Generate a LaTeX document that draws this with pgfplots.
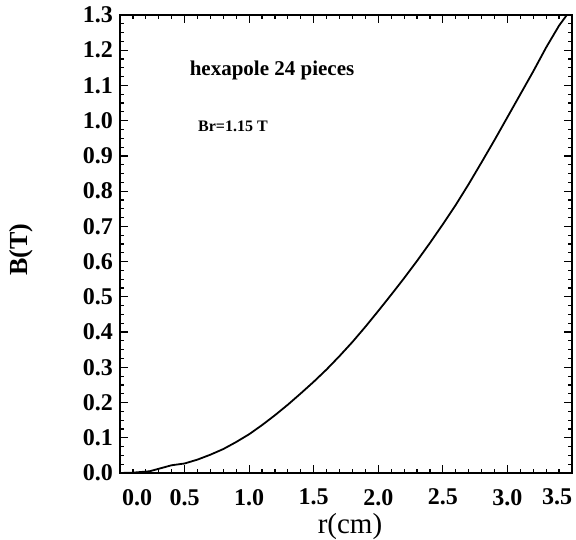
\documentclass[border=0pt]{standalone}
\usepackage{fontspec}
\setmainfont{Liberation Serif}
\usepackage{pgfplots}
\pgfplotsset{compat=1.18}
\usetikzlibrary{calc}
\begin{document}
\begin{tikzpicture}
\begin{axis}[
  name=ax,
  scale only axis,
  width=226pt, height=229pt,
  xmin=0, xmax=3.5, ymin=0, ymax=1.3,
  xtick={0,0.5,1,1.5,2,2.5,3,3.5},
  xticklabels={\hspace*{17pt}0.0,0.5,1.0,1.5,2.0,2.5,3.0,3.5\hspace*{15pt}},
  ytick={0,0.1,0.2,0.3,0.4,0.5,0.6,0.7,0.8,0.9,1.0,1.1,1.2,1.3},
  yticklabels={0.0,0.1,0.2,0.3,0.4,0.5,0.6,0.7,0.8,0.9,1.0,1.1,1.2,1.3},
  minor x tick num=4,
  minor y tick num=3,
  tick align=inside,
  major tick length=4pt,
  minor tick length=2pt,
  axis line style={line width=1.1pt},
  every tick/.style={black, line width=0.6pt},
  tick label style={font=\fontsize{12}{14}\selectfont\bfseries},
  xticklabel style={yshift=-4.5pt},
  xlabel={r(cm)},
  ylabel={\bfseries B(T)},
  every axis x label/.style={at={($(axis description cs:0.5,0)+(2pt,-27pt)$)}, anchor=center, font=\fontsize{14.5}{16}\selectfont},
  every axis y label/.style={at={($(axis description cs:0,0.5)+(-49.5pt,-3pt)$)}, anchor=center, rotate=90, font=\fontsize{13}{15}\selectfont},
]
\addplot[black, line width=0.9pt] coordinates {
  (0.00,0.000) (0.10,0.001) (0.23,0.005) (0.33,0.015) (0.40,0.022) (0.50,0.027)
  (0.60,0.038) (0.70,0.052) (0.80,0.068) (0.90,0.088) (1.00,0.110) (1.10,0.136)
  (1.20,0.164) (1.30,0.194) (1.40,0.226) (1.50,0.259) (1.60,0.294) (1.70,0.332)
  (1.80,0.372) (1.90,0.415) (2.00,0.460) (2.10,0.506) (2.20,0.553) (2.30,0.602)
  (2.40,0.653) (2.50,0.706) (2.60,0.761) (2.70,0.820) (2.80,0.882) (2.90,0.945)
  (3.00,1.010) (3.10,1.075) (3.20,1.140) (3.30,1.208) (3.40,1.270) (3.46,1.300)
};
\node[font=\fontsize{10.5}{12}\selectfont\bfseries] at (axis cs:1.177,1.144) {hexapole 24 pieces};
\node[font=\fontsize{8}{10}\selectfont\bfseries] at (axis cs:0.875,0.985) {Br=1.15 T};
\end{axis}
\pgfresetboundingbox
\path ($(ax.south west)+(-60pt,-33pt)$) rectangle ($(ax.south west)+(228pt,236.5pt)$);
\end{tikzpicture}
\end{document}
